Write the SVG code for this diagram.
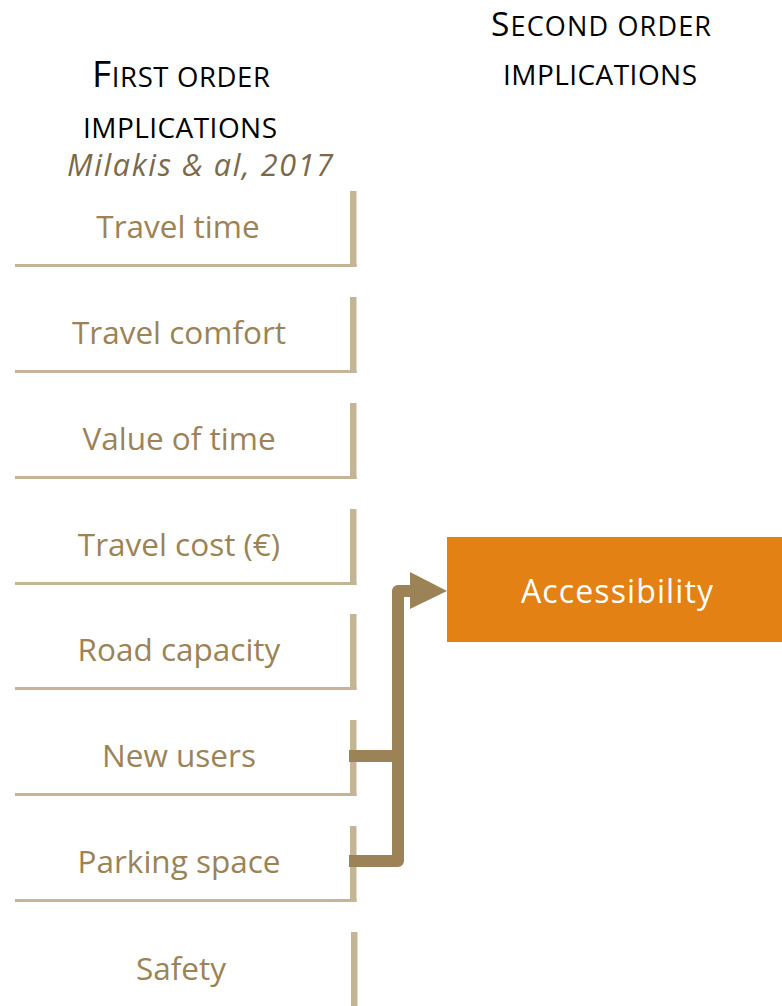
<svg xmlns="http://www.w3.org/2000/svg" width="782" height="1006" viewBox="0 0 782 1006">
<style>
.hd{font-family:"Open Sans","Liberation Sans",sans-serif;fill:#000}
.lbl{font-family:"Open Sans","Liberation Sans",sans-serif;font-size:31.5px;fill:#9b8357;text-anchor:middle}
.bar{fill:#c4b596}
.cn{fill:none;stroke:#9b8357;stroke-width:12;stroke-linejoin:round}
</style>
<defs>
<g id="frame">
<rect class="bar" x="350" y="0" width="6.5" height="76"/>
<rect class="bar" x="15" y="73" width="341.5" height="3"/>
</g>
</defs>
<g id="header-first">
<text class="hd" x="181" y="87" text-anchor="middle" textLength="178" lengthAdjust="spacing"><tspan font-size="37">F</tspan><tspan font-size="27.5">IRST ORDER</tspan></text>
<text class="hd" x="180" y="138" text-anchor="middle" font-size="28" textLength="194" lengthAdjust="spacing">IMPLICATIONS</text>
<text x="200" y="176" text-anchor="middle" font-family="'Open Sans','Liberation Sans',sans-serif" font-style="italic" font-size="30.5" fill="#7a6a4a" textLength="266" lengthAdjust="spacing">Milakis &amp; al, 2017</text>
</g>
<g id="header-second">
<text class="hd" x="601" y="36" text-anchor="middle" textLength="220" lengthAdjust="spacing"><tspan font-size="33.5">S</tspan><tspan font-size="27">ECOND ORDER</tspan></text>
<text class="hd" x="600" y="85" text-anchor="middle" font-size="28" textLength="194" lengthAdjust="spacing">IMPLICATIONS</text>
</g>
<g id="node-travel-time"><use href="#frame" y="191"/><text class="lbl" x="178" y="238">Travel time</text></g>
<g id="node-travel-comfort"><use href="#frame" y="297"/><text class="lbl" x="179" y="344">Travel comfort</text></g>
<g id="node-value-of-time"><use href="#frame" y="403"/><text class="lbl" x="179" y="450">Value of time</text></g>
<g id="node-travel-cost"><use href="#frame" y="509"/><text class="lbl" x="179" y="556">Travel cost (€)</text></g>
<g id="node-road-capacity"><use href="#frame" y="614"/><text class="lbl" x="179" y="661">Road capacity</text></g>
<g id="node-new-users"><use href="#frame" y="720"/><text class="lbl" x="179" y="767">New users</text></g>
<g id="node-parking-space"><use href="#frame" y="826"/><text class="lbl" x="179" y="873">Parking space</text></g>
<g id="node-safety"><rect class="bar" x="351" y="932" width="6.5" height="80"/><text class="lbl" x="181" y="980">Safety</text></g>
<g id="node-accessibility">
<rect x="447" y="537" width="335" height="105" fill="#e38114"/>
<text x="617" y="603" text-anchor="middle" font-family="'Open Sans','Liberation Sans',sans-serif" font-size="32" fill="#ffffff" textLength="192" lengthAdjust="spacing">Accessibility</text>
</g>
<g id="connectors">
<path class="cn" d="M349 756 H398"/>
<path class="cn" d="M349 861 H398 V591 H412"/>
<polygon points="410,572 447,591 410,609" fill="#9b8357"/>
</g>
</svg>
